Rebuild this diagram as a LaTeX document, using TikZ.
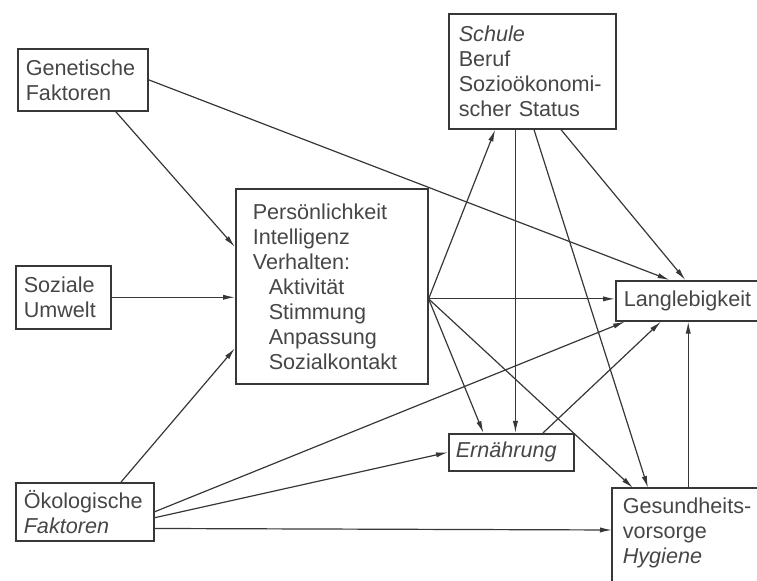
\documentclass[tikz,border=0pt]{standalone}
\usepackage{fontspec}
\setmainfont{Liberation Sans}
\usetikzlibrary{arrows.meta,calc}
\definecolor{ink}{RGB}{55,55,55}
\definecolor{schrift}{RGB}{70,70,70}

\begin{document}
\begin{tikzpicture}[x=0.5pt,y=-0.5pt,
  kasten/.style={draw=ink, line width=0.8pt, anchor=north west, align=left,
    inner xsep=4pt, text=schrift, font=\fontsize{10.8pt}{12.5pt}\selectfont},
  pfeil/.style={draw=ink, line width=0.6pt, -{Latex[length=6pt,width=2.6pt]}}]
  \useasboundingbox (0,0) rectangle (757,581);
  \clip (0,0) rectangle (757,581);

  % Draw the boxes on the left
  \node[kasten, text width=57pt, minimum height=31pt] (gen) at (17,48) {Genetische\\Faktoren};
  \node[kasten, text width=39.5pt, minimum height=31.5pt] (soz) at (15,265) {Soziale\\Umwelt};
  \node[kasten, text width=61pt, minimum height=29pt] (oeko) at (15,482) {Ökologische\\\textit{Faktoren}};

  % Draw the middle box
  \node[kasten, inner xsep=8.5pt, text width=79pt, minimum height=97.5pt] (pers) at (235,188)
    {Persönlichkeit\\Intelligenz\\Verhalten:\\\hspace*{8pt}Aktivität\\\hspace*{8pt}Stimmung\\\hspace*{8pt}Anpassung\\\hspace*{8pt}Sozialkontakt};

  % Draw the boxes on the right
  \node[kasten, inner xsep=5pt, text width=73.5pt, minimum height=57.5pt] (schule) at (448,13)
    {\textit{Schule}\\Beruf\\Sozioökonomi-\\scher Status};
  \node[kasten, text width=63pt, minimum height=20pt] (lang) at (615,280) {Langlebigkeit};
  \node[kasten, inner xsep=3.5pt, text width=55.5pt, minimum height=18.5pt] (ern) at (448,433) {\textit{Ernährung}};
  \node[kasten, draw=none, inner xsep=5pt, inner ysep=4.6pt, text width=70pt] (ges) at (612,488)
    {Gesundheits-\\vorsorge\\\textit{Hygiene}};
  \draw[ink, line width=0.8pt] (ges.north west) rectangle ++(100pt,-60pt);

  % Arrows from the left
  \draw[pfeil] (gen.east) -- ($(lang.north west)!0.38!(lang.north east)$);
  \draw[pfeil] ($(gen.south west)!0.75!(gen.south east)$) -- ($(pers.north west)!0.30!(pers.south west)$);
  \draw[pfeil] (soz.east) -- (soz.east -| pers.west);
  \draw[pfeil] ($(oeko.north west)!0.76!(oeko.north east)$) -- ($(pers.north west)!0.815!(pers.south west)$);
  \draw[pfeil] ($(oeko.north east)!0.5!(oeko.south east)$) -- ($(lang.south west)!0.07!(lang.south east)$);
  \draw[pfeil] ($(oeko.north east)!0.6!(oeko.south east)$) -- (ern.west);
  \draw[pfeil] ($(oeko.north east)!0.78!(oeko.south east)$) -- ($(ges.north west)+(0,-21pt)$);

  % Arrows from the middle box
  \coordinate (hub) at ($(pers.north east)!0.564!(pers.south east)$);
  \draw[pfeil] (hub) -- ($(schule.south west)!0.28!(schule.south east)$);
  \draw[pfeil] (hub) -- (hub -| lang.west);
  \draw[pfeil] (hub) -- ($(ern.north west)!0.28!(ern.north east)$);
  \draw[pfeil] (hub) -- ($(ges.north west)+(10.5pt,0)$);

  % Arrows from Schule
  \coordinate (s1) at ($(schule.south west)!0.40!(schule.south east)$);
  \draw[pfeil] (s1) -- (s1 |- ern.north);
  \draw[pfeil] ($(schule.south west)!0.51!(schule.south east)$) -- ($(ges.north west)+(18pt,0)$);
  \draw[pfeil] ($(schule.south west)!0.67!(schule.south east)$) -- ($(lang.north west)!0.49!(lang.north east)$);

  % Arrows into Langlebigkeit
  \draw[pfeil] ($(ern.north west)!0.75!(ern.north east)$) -- ($(lang.south west)!0.32!(lang.south east)$);
  \coordinate (l1) at ($(lang.south west)!0.51!(lang.south east)$);
  \draw[pfeil] (l1 |- ges.north) -- (l1);
\end{tikzpicture}
\end{document}
